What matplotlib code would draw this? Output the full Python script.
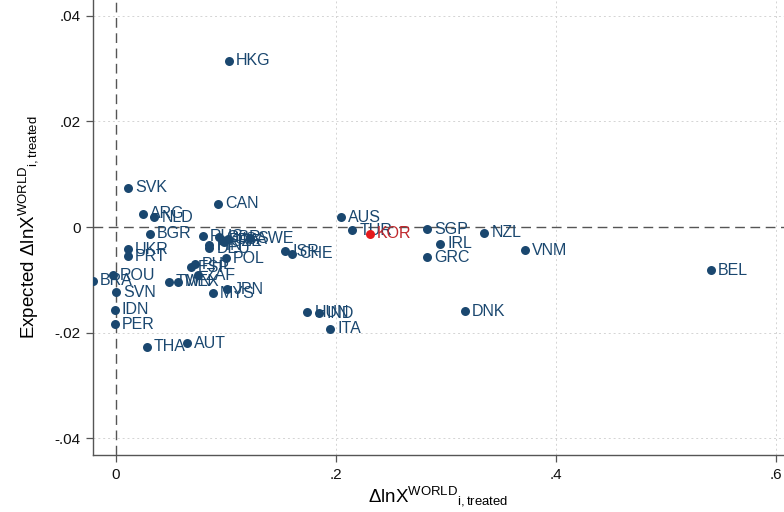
import numpy as np
import matplotlib.pyplot as plt
from matplotlib.ticker import FuncFormatter

plt.rcParams['font.family'] = ['Liberation Sans', 'DejaVu Sans']
plt.rcParams['mathtext.fontset'] = 'custom'
plt.rcParams['mathtext.rm'] = 'Liberation Sans'
plt.rcParams['mathtext.it'] = 'Liberation Sans'

# country codes with observed and expected change in log world exports
countries = ['HKG', 'SVK', 'CAN', 'ARG', 'NLD', 'AUS', 'TUR', 'SGP', 'NZL', 'IRL',
             'GRC', 'VNM', 'BEL', 'DNK', 'ITA', 'HUN', 'IND', 'BGR', 'UKR', 'PRT',
             'ROU', 'BRA', 'SVN', 'IDN', 'PER', 'THA', 'AUT', 'RUS', 'GBR', 'FRA',
             'CZE', 'USA', 'SWE', 'FIN', 'DEU', 'POL', 'ISR', 'CHE', 'ESP', 'PHL',
             'ZAF', 'TWN', 'MEX', 'MYS', 'JPN']
dx = [0.103, 0.011, 0.093, 0.025, 0.035, 0.205, 0.215, 0.283, 0.335, 0.295,
      0.283, 0.372, 0.541, 0.317, 0.195, 0.174, 0.185, 0.031, 0.011, 0.011,
      -0.003, -0.021, 0.000, -0.001, -0.001, 0.028, 0.065, 0.079, 0.094, 0.096,
      0.098, 0.102, 0.122, 0.085, 0.085, 0.100, 0.154, 0.160, 0.068, 0.072,
      0.075, 0.048, 0.056, 0.088, 0.101]
expected = [0.0315, 0.0074, 0.0044, 0.0025, 0.0019, 0.0019, -0.0006, -0.0004, -0.0011, -0.0032,
            -0.0057, -0.0044, -0.0082, -0.0159, -0.0193, -0.0161, -0.0163, -0.0013, -0.0042, -0.0055,
            -0.0091, -0.0102, -0.0123, -0.0157, -0.0184, -0.0227, -0.0220, -0.0017, -0.0019, -0.0025,
            -0.0028, -0.0023, -0.0021, -0.0034, -0.0040, -0.0059, -0.0046, -0.0051, -0.0076, -0.0070,
            -0.0091, -0.0104, -0.0104, -0.0125, -0.0118]

# treated country highlighted in red
kor_x = [0.231]
kor_y = [-0.0013]

navy = '#1a476f'

fig = plt.figure(figsize=(7.84, 5.12), dpi=100)
ax = fig.add_axes([0.1186, 0.111, 0.8814, 0.889])

ax.axhline(0, color='#555555', lw=1.0, ls=(0, (7, 4)), zorder=1)
ax.axvline(0, color='#555555', lw=1.0, ls=(0, (7, 4)), zorder=1)

ax.scatter(dx, expected, s=42, color=navy, zorder=3, linewidths=0)
for name, x, y in zip(countries, dx, expected):
    ax.annotate(name, (x, y), textcoords='offset points', xytext=(5, 0),
                va='center', ha='left', fontsize=11.5, color=navy, zorder=4)

ax.scatter(kor_x, kor_y, s=42, color='#e41a1c', zorder=5, linewidths=0)
ax.annotate('KOR', (kor_x[0], kor_y[0]), textcoords='offset points', xytext=(5, 0),
            va='center', ha='left', fontsize=11.5, color='#c0282d', zorder=6)

ax.set_xlim(-0.0209, 0.6073)
ax.set_ylim(-0.0432, 0.0430)
ax.set_xticks([0, 0.2, 0.4, 0.6])
ax.set_yticks([-0.04, -0.02, 0, 0.02, 0.04])

def strip_zero(v, pos):
    if abs(v) < 1e-12:
        return '0'
    s = ('%g' % v).replace('0.', '.')
    return s

ax.xaxis.set_major_formatter(FuncFormatter(strip_zero))
ax.yaxis.set_major_formatter(FuncFormatter(strip_zero))

# light dotted grid, skipping the zero lines which carry the dashed references
for yv in [-0.04, -0.02, 0.02, 0.04]:
    ax.axhline(yv, color='#d4d4d4', lw=0.7, ls=(0, (2, 3)), zorder=0)
for xv in [0.2, 0.4, 0.6]:
    ax.axvline(xv, color='#d4d4d4', lw=0.7, ls=(0, (2, 3)), zorder=0)

for side in ['top', 'right']:
    ax.spines[side].set_visible(False)
for side in ['left', 'bottom']:
    ax.spines[side].set_color('#555555')
    ax.spines[side].set_linewidth(1.0)

ax.tick_params(axis='both', direction='out', length=5, width=0.9, color='#555555',
               labelsize=11, labelcolor='#111111', pad=4)

ax.set_xlabel(r'$\Delta$lnX$^{\mathrm{WORLD}}$$_{\mathrm{i,treated}}$', fontsize=13.5, labelpad=2)
ax.set_ylabel(r'Expected $\Delta$lnX$^{\mathrm{WORLD}}$$_{\mathrm{i,treated}}$', fontsize=13.5, labelpad=10)

fig.savefig('out.png', dpi=100)
